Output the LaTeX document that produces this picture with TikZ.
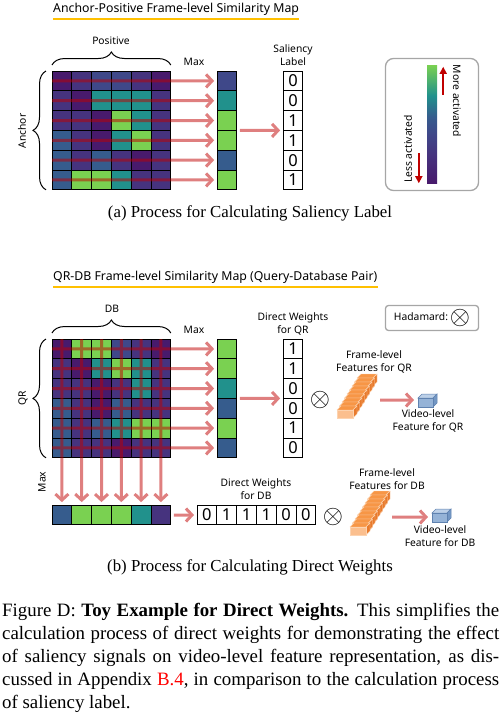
\documentclass[tikz,border=0pt]{standalone}
\usepackage{fontspec}
\setmainfont{Liberation Serif}
\newfontfamily\labfont{Noto Sans}
\usetikzlibrary{positioning,decorations.pathreplacing,arrows.meta,calc}

\definecolor{v1}{HTML}{481A6C}
\definecolor{v2}{HTML}{46337E}
\definecolor{v3}{HTML}{3F4889}
\definecolor{v4}{HTML}{365C8D}
\definecolor{v5}{HTML}{21918C}
\definecolor{v6}{HTML}{7AD151}
\definecolor{flowred}{HTML}{C00000}
\definecolor{ulgold}{HTML}{FFC000}
\definecolor{boxgray}{HTML}{A6A6A6}
\definecolor{slabfront}{HTML}{FBBF8E}
\definecolor{slabtop}{HTML}{F79646}
\definecolor{slabside}{HTML}{E87A2C}
\definecolor{slabedge}{HTML}{FCD3B0}
\definecolor{cubefront}{HTML}{95B3D7}
\definecolor{cubetop}{HTML}{BCD0E8}
\definecolor{cubeside}{HTML}{7397C4}
\definecolor{cubeedge}{HTML}{5F82B0}

\pgfdeclareverticalshading{viridisbar}{100bp}{color(0bp)=(v1); color(25bp)=(v1); color(37bp)=(v2); color(46bp)=(v3); color(53bp)=(v4); color(62bp)=(v5); color(75bp)=(v6); color(100bp)=(v6)}

\begin{document}
\begin{tikzpicture}[x=1pt,y=-1pt,
    cell/.style={draw=black, line width=0.9pt, minimum size=19.8pt, inner sep=0pt, outer sep=0pt},
    wcell/.style={cell, fill=white, font=\labfont\fontsize{16.5}{16.5}\selectfont},
    lab/.style={font=\labfont\fontsize{10.3}{13}\selectfont, align=center, inner sep=0pt},
    ttl/.style={font=\labfont\fontsize{12.3}{14}\selectfont, inner sep=0pt, anchor=west},
    subcap/.style={font=\fontsize{16.8}{20}\selectfont, inner sep=0pt},
    flow/.style={draw=flowred, line width=3pt, -{Straight Barb[length=6pt,width=13pt]}, shorten >=3pt},
    legarrow/.style={draw=flowred, line width=1.6pt, -{Triangle[length=7pt,width=7pt]}},
    brc/.style={decorate, decoration={brace, amplitude=13pt}, line width=1pt},
    uline/.style={draw=ulgold, line width=1.8pt},
    otimes/.style={inner sep=0pt},
    rbox/.style={draw=boxgray, line width=1.3pt},
    slab/.pic={
        \filldraw[fill=slabtop, draw=slabedge, line width=0.4pt] (0,0) -- (4,-4) -- (20,-4) -- (16,0) -- cycle;
        \filldraw[fill=slabside, draw=slabedge, line width=0.4pt] (16,0) -- (20,-4) -- (20,4) -- (16,8) -- cycle;
        \filldraw[fill=slabfront, draw=slabedge, line width=0.4pt] (0,0) rectangle (16,8);
    },
    cube/.pic={
        \filldraw[fill=cubetop, draw=cubeedge, line width=0.5pt] (0,0) -- (4,-4) -- (19,-4) -- (15,0) -- cycle;
        \filldraw[fill=cubeside, draw=cubeedge, line width=0.5pt] (15,0) -- (19,-4) -- (19,5) -- (15,9) -- cycle;
        \filldraw[fill=cubefront, draw=cubeedge, line width=0.5pt] (0,0) rectangle (15,9);
    },
]
\useasboundingbox (0,0) rectangle (502,715);

% (a) anchor-positive map
\node[ttl] (t1) at (53,9) {Anchor-Positive Frame-level Similarity Map};
\draw[uline] ([yshift=-3.5pt]t1.south west) -- ([yshift=-3.5pt]t1.south east);

\foreach \r/\row in {1/{1,2,3,3,2,1},2/{2,1,5,5,5,2},3/{2,2,1,6,5,2},4/{4,2,1,5,6,2},5/{4,2,4,2,1,2},6/{4,6,6,5,2,2}}
{
    \foreach \v [count=\c] in \row
        \node[cell, fill=v\v] (a-\r-\c) at ({42.1+19.8*\c},{61.1+19.8*\r}) {};
}
\foreach \v [count=\r] in {3,5,6,6,4,6}
    \node[cell, fill=v\v] (am-\r) at (227,{61.1+19.8*\r}) {};
\foreach \d [count=\r] in {0,0,1,1,0,1}
    \node[wcell] (sal-\r) at (293,{61.1+19.8*\r}) {\d};

\draw[brc] ([yshift=6pt]a-1-1.north west) -- ([yshift=6pt]a-1-6.north east);
\draw[brc] ([xshift=-6pt]a-6-1.south west) -- ([xshift=-6pt]a-1-1.north west);
\node[lab] (lpos) at (111,41) {Positive};
\node[lab, rotate=90] (lanc) at (22,131) {Anchor};
\node[lab] (lmaxa) at (194,62) {Max};
\node[lab] (lsal) at (293,55) {Saliency\\Label};

% legend
\node[rbox, rounded corners=8pt, minimum width=93pt, minimum height=132pt] (leg) at (432,124.5) {};
\node[shade, shading=viridisbar, minimum width=10pt, minimum height=118pt, inner sep=0pt] (bar) at (432,124) {};
\node[lab, rotate=-90] (more) at (457,101) {More activated};
\node[lab, rotate=90] (less) at (408,149) {Less activated};
\draw[legarrow] ([xshift=6pt,yshift=-30pt]bar.north east) -- ([xshift=6pt,yshift=-2pt]bar.north east);
\draw[legarrow] ([xshift=-8pt,yshift=30pt]bar.south west) -- ([xshift=-8pt]bar.south west);

\node[subcap] (capa) at (250,213) {(a) Process for Calculating Saliency Label};

% (b) query-database map
\node[ttl] (t2) at (53,277) {QR-DB Frame-level Similarity Map (Query-Database Pair)};
\draw[uline] ([yshift=-3.5pt]t2.south west) -- ([yshift=-3.5pt]t2.south east);

\foreach \r/\row in {1/{1,6,6,3,2,1},2/{2,1,5,6,5,2},3/{2,2,1,2,5,2},4/{4,2,1,4,2,2},5/{4,2,4,5,6,6},6/{4,2,2,1,2,2}}
{
    \foreach \v [count=\c] in \row
        \node[cell, fill=v\v] (b-\r-\c) at ({42.1+19.8*\c},{329.1+19.8*\r}) {};
}
\foreach \v [count=\r] in {6,6,5,4,6,4}
    \node[cell, fill=v\v] (bm-\r) at (227,{329.1+19.8*\r}) {};
\foreach \v [count=\c] in {4,6,6,6,5,2}
    \node[cell, fill=v\v] (bn-\c) at ({42.1+19.8*\c},515) {};
\foreach \d [count=\r] in {1,1,0,0,1,0}
    \node[wcell] (wq-\r) at (293,{329.1+19.8*\r}) {\d};
\foreach \d [count=\c] in {0,1,1,1,0,0}
    \node[wcell] (wd-\c) at ({187.1+19.8*\c},515) {\d};

\draw[brc] ([yshift=6pt]b-1-1.north west) -- ([yshift=6pt]b-1-6.north east);
\draw[brc] ([xshift=-6pt]b-6-1.south west) -- ([xshift=-6pt]b-1-1.north west);
\node[lab] (ldb) at (112,309) {DB};
\node[lab, rotate=90] (lqr) at (23,398) {QR};
\node[lab] (lmaxb) at (194,330) {Max};
\node[lab, rotate=90] (lmaxc) at (42,482) {Max};
\node[lab] (lwq) at (293,324) {Direct Weights\\for QR};
\node[lab] (lwd) at (256,489) {Direct Weights\\for DB};

\node[rbox, rounded corners=3pt, minimum width=93pt, minimum height=25pt, lab] (had) at (432,318) {Hadamard:\,\raisebox{-0.8ex}{\scalebox{2.6}{$\otimes$}}};
\node[otimes] (oq) at (320,400) {\scalebox{2.6}{$\otimes$}};
\node[otimes] (od) at (333,517) {\scalebox{2.6}{$\otimes$}};

% frame-level feature stacks
\node[minimum width=42pt, minimum height=50pt, inner sep=0pt] (fq) at (357,400) {};
\foreach \i in {8,...,0}
    \pic at ({337+2.5*\i},{410-4*\i}) {slab};
\node[minimum width=40pt, minimum height=46pt, inner sep=0pt] (fd) at (370,517) {};
\foreach \i in {8,...,0}
    \pic at ({350+2.5*\i},{527-4*\i}) {slab};
\node[lab] (lfq) at (374,362) {Frame-level\\Features for QR};
\node[lab] (lfd) at (387,479) {Frame-level\\Features for DB};

% video-level features
\pic at (418,398) {cube};
\coordinate (vq) at (418,400);
\pic at (432,513) {cube};
\coordinate (vd) at (432,517);
\node[lab] (lvq) at (428,421) {Video-level\\Feature for QR};
\node[lab] (lvd) at (440,536) {Video-level\\Feature for DB};

\node[subcap] (capb) at (250,567) {(b) Process for Calculating Direct Weights};

% max pooling arrows
\begin{scope}[transparency group, opacity=0.5]
    \foreach \r in {1,...,6}
    {
        \draw[flow] (a-\r-1.west) -- (am-\r.west);
        \draw[flow] (b-\r-1.west) -- (bm-\r.west);
        \draw[flow] (b-1-\r.north) -- (bn-\r.north);
    }
    \draw[flow, shorten <=3pt] (am-3.south east) -- (sal-3.south west);
    \draw[flow, shorten <=3pt] (bm-3.south east) -- (wq-3.south west);
    \draw[flow, shorten <=3pt] (bn-6.east) -- (wd-1.west);
    \draw[flow, shorten <=2pt, shorten >=4pt] (fq.east) -- (vq);
    \draw[flow, shorten <=2pt, shorten >=4pt] (fd.east) -- (vd);
\end{scope}

% caption
\node[anchor=north west, text width=497pt, align=justify, inner sep=0pt, font=\fontsize{18.87}{23.07}\selectfont] (capt) at (2,603)
{Figure D: \textbf{Toy Example for Direct Weights.} This simplifies the\linebreak
calculation process of direct weights for demonstrating the effect\linebreak
of saliency signals on video-level feature representation, as dis-\linebreak
cussed in Appendix \textcolor{red}{B.4}, in comparison to the calculation process\linebreak
of saliency label.};
\end{tikzpicture}
\end{document}
